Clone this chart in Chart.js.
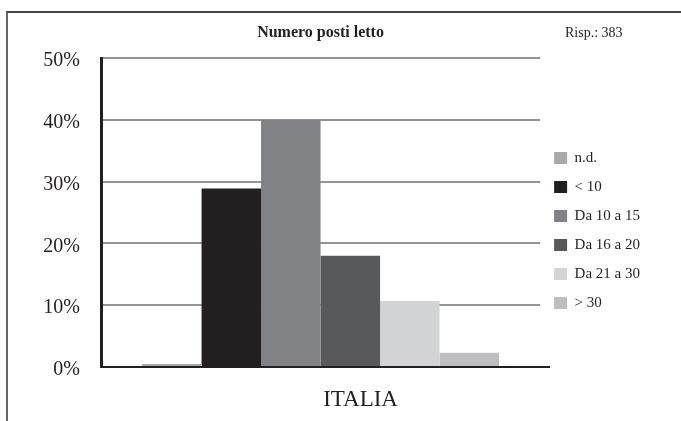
<!DOCTYPE html>
<html>
<head>
<meta charset="utf-8">
<script src="https://cdn.jsdelivr.net/npm/chart.js@4.4.1/dist/chart.umd.min.js"></script>
<style>
  body { margin: 0; background: #fff; }
  #wrap { position: relative; width: 681px; height: 421px; }
  #frame { position: absolute; left: 6px; top: 11px; right: 0; bottom: 0;
           border-top: 2px solid #444; border-left: 2px solid #666; pointer-events: none; }
</style>
</head>
<body>
<div id="wrap">
  <canvas id="postiChart" width="681" height="421"></canvas>
  <div id="frame"></div>
</div>
<script>
// data
var categories = ['ITALIA'];
var seriesLabels = ['n.d.', '< 10', 'Da 10 a 15', 'Da 16 a 20', 'Da 21 a 30', '> 30'];
var seriesValues = [0.5, 28.9, 40.0, 18.0, 10.7, 2.3];
var seriesColors = ['#a7a9ac', '#231f20', '#808285', '#58595b', '#d1d3d4', '#bcbec0'];
var yTicks = [0, 10, 20, 30, 40, 50];
var chartTitle = 'Numero posti letto';
var respText = 'Risp.: 383';

var serif = "'Liberation Serif', 'Times New Roman', serif";
var ink = '#231f20';

var datasets = seriesLabels.map(function(label, i) {
    return {
        label: label,
        data: [seriesValues[i]],
        backgroundColor: seriesColors[i],
        borderWidth: 0
    };
});

// small extras: "Risp." note, axis tail, legend nudge
var extras = {
    id: 'extras',
    afterLayout: function(chart) {
        var lg = chart.legend;
        lg.top += 20;
        lg.bottom += 20;
    },
    afterDraw: function(chart) {
        var ctx = chart.ctx;
        var area = chart.chartArea;
        ctx.save();
        ctx.strokeStyle = ink;
        ctx.lineWidth = 2;
        ctx.beginPath();
        ctx.moveTo(area.right - 1, area.bottom);
        ctx.lineTo(area.right + 10, area.bottom);
        ctx.stroke();
        ctx.fillStyle = ink;
        ctx.font = '14px ' + serif;
        ctx.textBaseline = 'middle';
        ctx.textAlign = 'left';
        ctx.fillText(respText, 565, 33);
        ctx.restore();
    }
};

var ctx = document.getElementById('postiChart').getContext('2d');
var postiChart = new Chart(ctx, {
    type: 'bar',
    data: {
        labels: categories,
        datasets: datasets
    },
    options: {
        responsive: false,
        animation: false,
        devicePixelRatio: 1,
        layout: {
            padding: { left: 0, right: 31, top: 0, bottom: 0 }
        },
        datasets: {
            bar: { categoryPercentage: 0.813, barPercentage: 1.0 }
        },
        scales: {
            x: {
                grid: { display: false, drawTicks: false },
                border: { display: true, color: ink, width: 2 },
                ticks: {
                    color: ink,
                    font: { family: serif, size: 23 },
                    padding: 19,
                    labelOffset: 40
                },
                afterFit: function(scale) { scale.height = 54; }
            },
            y: {
                min: 0,
                max: 50,
                afterBuildTicks: function(scale) {
                    scale.ticks = yTicks.map(function(v) { return { value: v }; });
                },
                grid: { color: '#939598', lineWidth: 2, drawTicks: false },
                border: { display: true, color: ink, width: 3 },
                ticks: {
                    color: ink,
                    font: { family: serif, size: 20 },
                    padding: 21,
                    labelOffset: 3,
                    callback: function(v) { return v + '%'; }
                },
                afterFit: function(scale) { scale.width = 101; }
            }
        },
        plugins: {
            title: {
                display: true,
                text: chartTitle,
                fullSize: false,
                color: ink,
                font: { family: serif, size: 16, weight: 'bold' },
                padding: { top: 23, bottom: 16 }
            },
            legend: {
                position: 'right',
                labels: {
                    color: ink,
                    font: { family: serif, size: 15 },
                    boxWidth: 13,
                    boxHeight: 12,
                    padding: 14
                }
            },
            tooltip: { enabled: false }
        }
    },
    plugins: [extras]
});
</script>
</body>
</html>
